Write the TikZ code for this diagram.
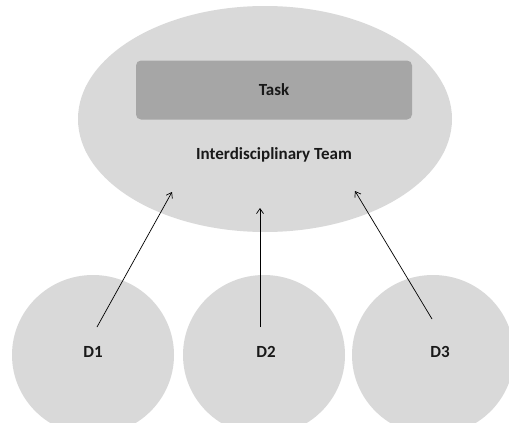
\documentclass[tikz,border=0pt]{standalone}
\usepackage{fontspec}
\setmainfont{Carlito}
\usetikzlibrary{arrows.meta,positioning,shapes.geometric,calc}
\definecolor{fondogris}{RGB}{217,217,217}
\definecolor{tareagris}{RGB}{166,166,166}
\tikzset{
  texto/.style={font=\fontsize{17}{20}\selectfont\bfseries,text=black!90},
  equipo/.style={ellipse,draw=none,fill=fondogris,minimum width=374pt,minimum height=226pt,inner sep=0pt},
  tarea/.style={rectangle,rounded corners=5pt,draw=none,fill=tareagris,minimum width=276pt,minimum height=59pt,texto},
  disco/.style={ellipse,draw=none,fill=fondogris,minimum width=162pt,minimum height=160pt},
  flecha/.style={-{Straight Barb[length=5pt,width=7pt]},black,line width=0.7pt},
}

\begin{document}
\begin{tikzpicture}[x=1pt,y=-1pt]
  \clip (0,0) rectangle (509,423);
  \fill[white] (0,0) rectangle (509,423);
  % equipo y tarea
  \node[equipo] (team) at (265,119) {};
  \node[tarea] (task) at (274,90) {Task};
  \node[texto] (lbl) at (274,155) {Interdisciplinary Team};
  % disciplinas
  \node[disco] (d1) at (93,355) {};
  \node[disco] (d2) at (264,355) {};
  \node[disco] (d3) at (433,355) {};
  \node[texto] (t1) at (93,352) {D1};
  \node[texto] (t2) at (266,352) {D2};
  \node[texto] (t3) at (440,352) {D3};
  % extremos
  \coordinate (s1) at (97,327);
  \coordinate (s2) at (260,327);
  \coordinate (s3) at (432,319);
  \coordinate (e1) at (172,192);
  \coordinate (e2) at (260,208);
  \coordinate (e3) at (355,191);
  \draw[flecha] (s1) -- (e1);
  \draw[flecha] (s2) -- (e2);
  \draw[flecha] (s3) -- (e3);
\end{tikzpicture}
\end{document}
